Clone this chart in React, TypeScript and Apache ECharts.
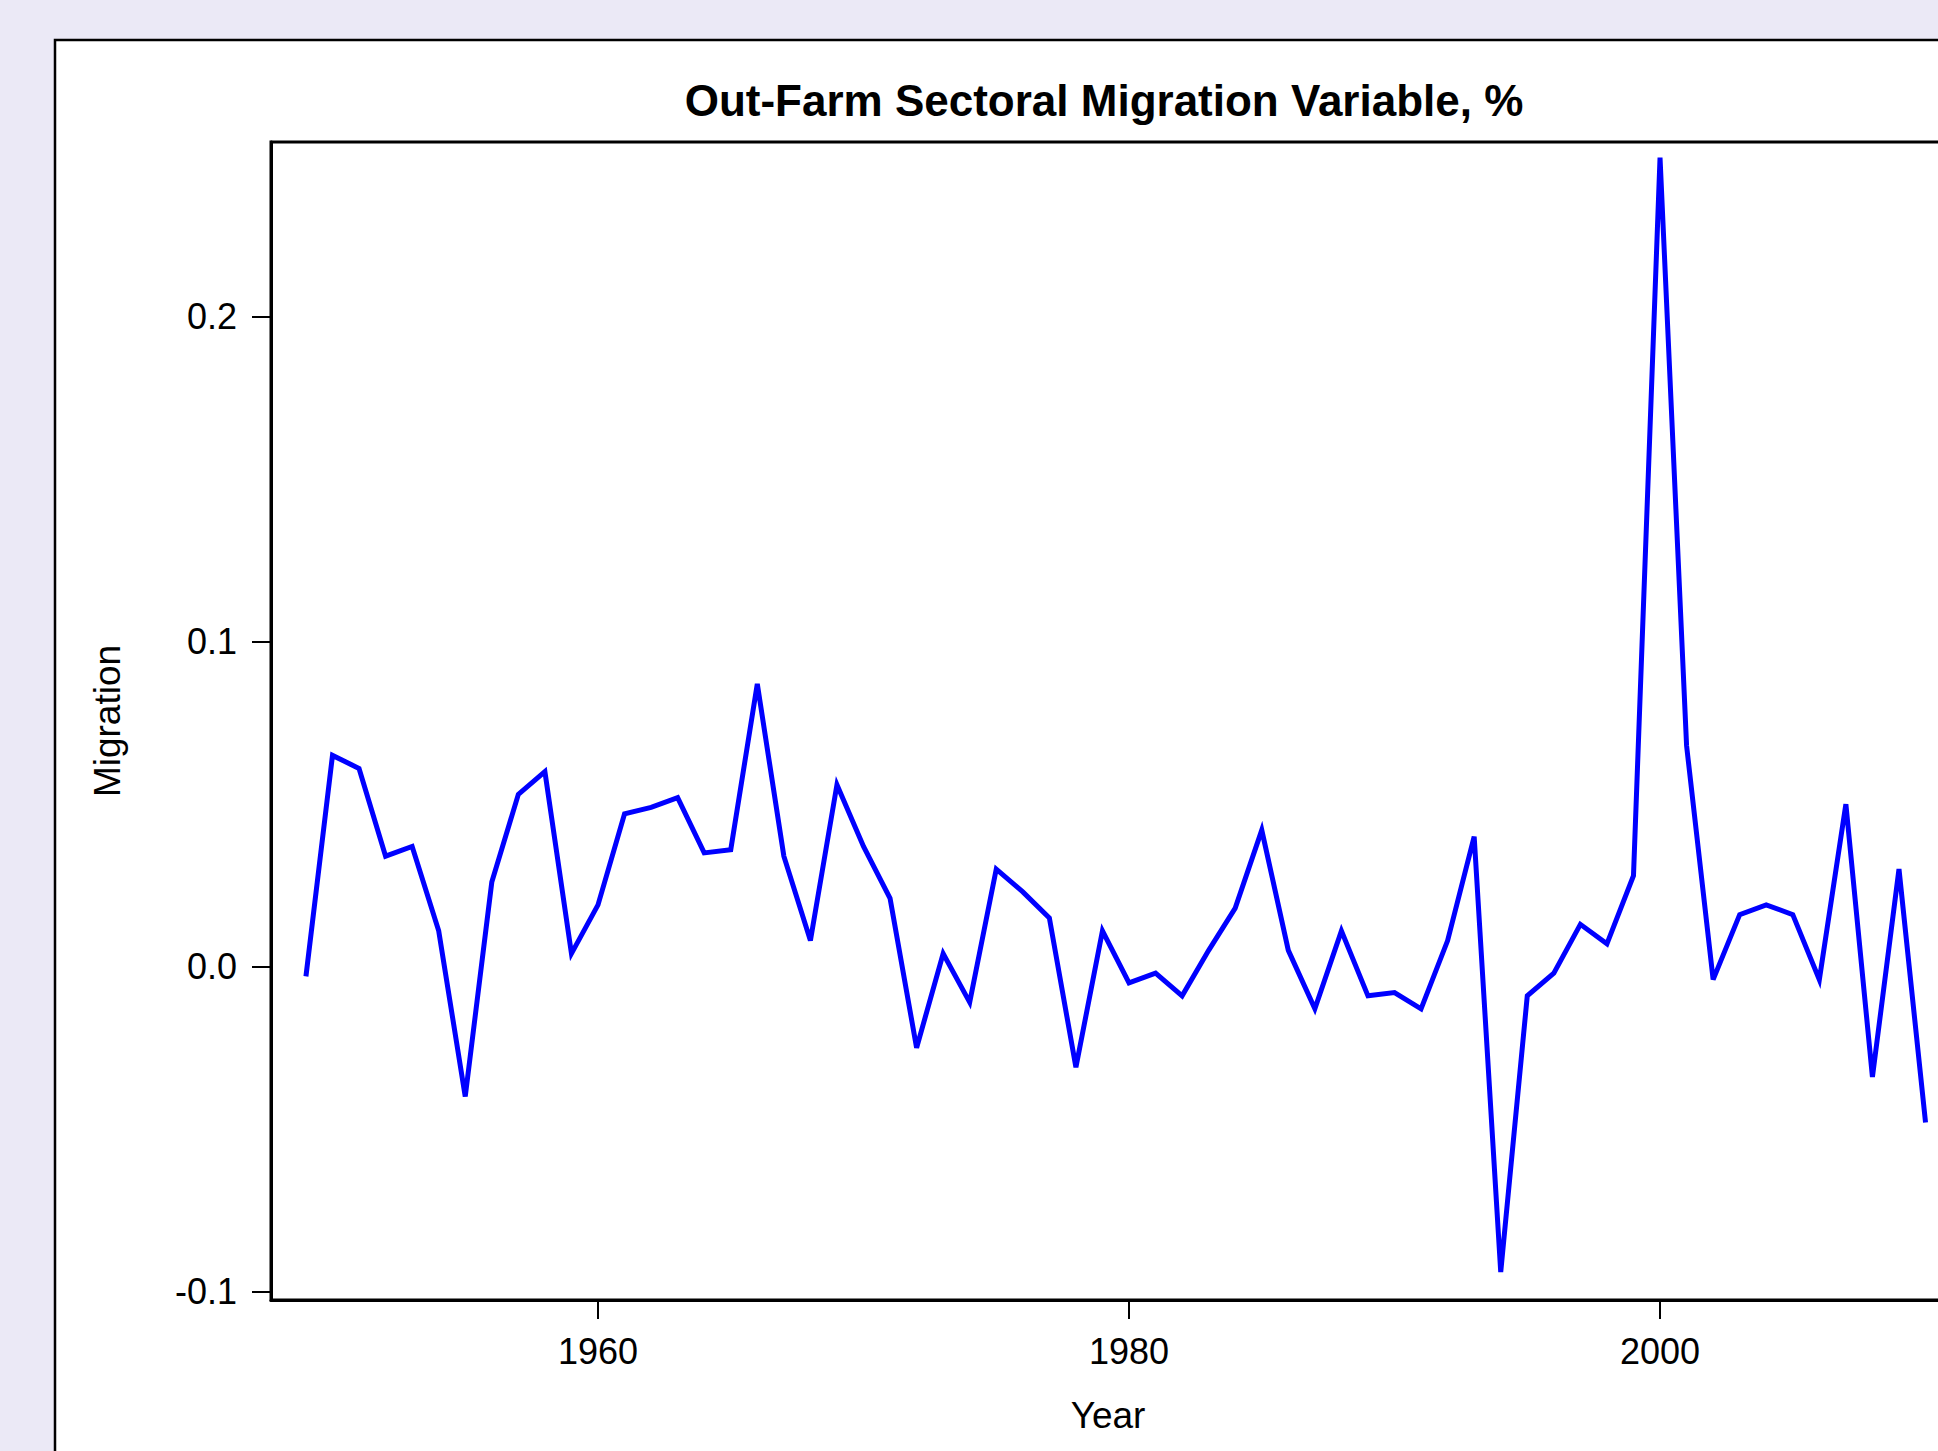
import { useEffect, useRef } from "react";
import * as echarts from "echarts";

const years = [
  1949, 1950, 1951, 1952, 1953, 1954, 1955, 1956, 1957, 1958, 1959,
  1960, 1961, 1962, 1963, 1964, 1965, 1966, 1967, 1968, 1969,
  1970, 1971, 1972, 1973, 1974, 1975, 1976, 1977, 1978, 1979,
  1980, 1981, 1982, 1983, 1984, 1985, 1986, 1987, 1988, 1989,
  1990, 1991, 1992, 1993, 1994, 1995, 1996, 1997, 1998, 1999,
  2000, 2001, 2002, 2003, 2004, 2005, 2006, 2007, 2008, 2009, 2010,
];

const migration = [
  -0.003, 0.065, 0.061, 0.034, 0.037, 0.011, -0.04, 0.026, 0.053, 0.06, 0.004,
  0.019, 0.047, 0.049, 0.052, 0.035, 0.036, 0.087, 0.034, 0.008, 0.056,
  0.037, 0.021, -0.025, 0.004, -0.011, 0.03, 0.023, 0.015, -0.031, 0.011,
  -0.005, -0.002, -0.009, 0.005, 0.018, 0.042, 0.005, -0.013, 0.011, -0.009,
  -0.008, -0.013, 0.008, 0.04, -0.094, -0.009, -0.002, 0.013, 0.007, 0.028,
  0.249, 0.068, -0.004, 0.016, 0.019, 0.016, -0.004, 0.05, -0.034, 0.03, -0.048,
];

const xTicks = [1960, 1980, 2000];
const yTicks = [-0.1, 0, 0.1, 0.2];

const titleText = "Out-Farm Sectoral Migration Variable, %";
const xName = "Year";
const yName = "Migration";

const FONT = '"Liberation Sans", Arial, Helvetica, sans-serif';

export default function App() {
  const ref = useRef<HTMLDivElement>(null);

  useEffect(() => {
    if (!ref.current) return;
    const chart = echarts.init(ref.current, null, { renderer: "svg" });
    chart.setOption({
      animation: false,
      backgroundColor: "transparent",
      textStyle: { fontFamily: FONT },
      graphic: [
        {
          type: "rect",
          z: -10,
          silent: true,
          shape: { x: 55, y: 40, width: 2000, height: 1540 },
          style: { fill: "#ffffff", stroke: "#000000", lineWidth: 2.5 },
        },
        {
          type: "text",
          z: 10,
          x: 1104,
          y: 100,
          style: {
            text: titleText,
            fill: "#000000",
            fontSize: 44,
            fontWeight: "bold",
            fontFamily: FONT,
            align: "center",
            verticalAlign: "middle",
          },
        },
      ],
      grid: {
        left: 271,
        top: 142,
        width: 1674,
        height: 1158,
        show: true,
        backgroundColor: "#ffffff",
        borderColor: "#000000",
        borderWidth: 3,
      },
      xAxis: {
        type: "value",
        min: 1947.684,
        max: 2010.733,
        splitLine: { show: false },
        axisLine: { show: true, onZero: false, lineStyle: { color: "#000", width: 3 } },
        axisTick: {
          show: true,
          customValues: xTicks,
          length: 19,
          lineStyle: { color: "#000", width: 2 },
        },
        axisLabel: {
          customValues: xTicks,
          margin: 33,
          fontSize: 36,
          color: "#000",
          fontFamily: FONT,
          formatter: (v: number) => String(Math.round(v)),
        },
        name: xName,
        nameLocation: "middle",
        nameGap: 97,
        nameTextStyle: { fontSize: 37, color: "#000", fontFamily: FONT },
      },
      yAxis: {
        type: "value",
        min: -0.10262,
        max: 0.2538,
        splitLine: { show: false },
        axisLine: { show: true, onZero: false, lineStyle: { color: "#000", width: 3 } },
        axisTick: {
          show: true,
          customValues: yTicks,
          length: 19,
          lineStyle: { color: "#000", width: 2 },
        },
        axisLabel: {
          customValues: yTicks,
          margin: 34,
          fontSize: 36,
          color: "#000",
          fontFamily: FONT,
          formatter: (v: number) => v.toFixed(1),
        },
        name: yName,
        nameLocation: "middle",
        nameGap: 145,
        nameTextStyle: { fontSize: 37, color: "#000", fontFamily: FONT },
      },
      series: [
        {
          type: "line",
          data: years.map((y, i) => [y, migration[i]]),
          symbol: "none",
          showSymbol: false,
          lineStyle: { color: "#0000FF", width: 5, join: "miter" },
          z: 3,
        },
      ],
    });
    return () => chart.dispose();
  }, []);

  return (
    <div
      style={{
        position: "fixed",
        left: 0,
        top: 0,
        width: 1938,
        height: 1451,
        overflow: "hidden",
        background: "#EBE9F6",
      }}
    >
      <div
        ref={ref}
        style={{ position: "absolute", left: 0, top: 0, width: 2100, height: 1600 }}
      />
    </div>
  );
}
